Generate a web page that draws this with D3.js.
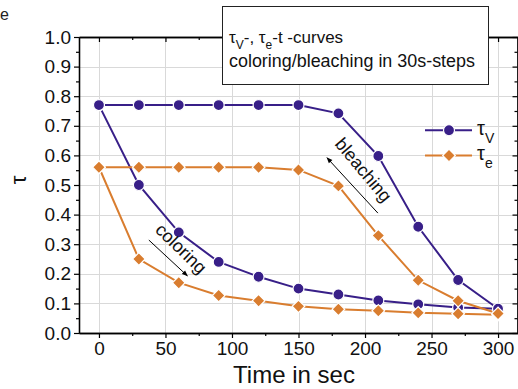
<!DOCTYPE html>
<html>
<head>
<meta charset="utf-8">
<script src="https://cdn.jsdelivr.net/npm/d3@7/dist/d3.min.js"></script>
<style>
  html, body { margin: 0; padding: 0; background: #fff; }
  svg { display: block; font-family: Arial, "Liberation Sans", sans-serif; }
</style>
</head>
<body>
<svg id="chart" width="518" height="389"></svg>
<script>
// Time steps (s) and the two measurement runs for each quantity
const times = [0, 30, 60, 90, 120, 150, 180, 210, 240, 270, 300];
const tauVColoring  = [0.77, 0.50, 0.34, 0.24, 0.19, 0.15, 0.13, 0.11, 0.097, 0.086, 0.082];
const tauVBleaching = [0.77, 0.77, 0.77, 0.77, 0.77, 0.77, 0.742, 0.598, 0.359, 0.179, 0.082];
const tauEColoring  = [0.56, 0.25, 0.17, 0.127, 0.109, 0.09, 0.08, 0.075, 0.068, 0.065, 0.062];
const tauEBleaching = [0.56, 0.56, 0.56, 0.56, 0.56, 0.551, 0.497, 0.329, 0.178, 0.109, 0.066];
const xTicks = [0, 50, 100, 150, 200, 250, 300];
const yTicks = [0.0, 0.1, 0.2, 0.3, 0.4, 0.5, 0.6, 0.7, 0.8, 0.9, 1.0];

const blue = "#381f88";
const orange = "#d97d2f";

const svg = d3.select("#chart");
const plotL = 79, plotR = 518, plotT = 37, plotB = 333;

const x = d3.scaleLinear().domain([-15, 315]).range([plotL, plotR]);
const y = d3.scaleLinear().domain([0, 1]).range([plotB, plotT]);

// stray glyph at the top-left corner
svg.append("text").attr("x", 0).attr("y", 20).attr("font-size", 16).attr("fill", "#222").text("e");

// grid
const grid = svg.append("g").attr("stroke", "#d9d9d9").attr("stroke-width", 1);
grid.selectAll(".gx").data(xTicks).join("line")
  .attr("x1", d => Math.round(x(d)) + 0.5).attr("x2", d => Math.round(x(d)) + 0.5)
  .attr("y1", plotT).attr("y2", plotB);
grid.selectAll(".gy").data(yTicks.slice(1)).join("line")
  .attr("y1", d => Math.round(y(d)) + 0.5).attr("y2", d => Math.round(y(d)) + 0.5)
  .attr("x1", plotL).attr("x2", plotR);

// axes
const minorY = d3.range(0.05, 1.0, 0.1);
const minorX = d3.range(0, 325, 25).filter(v => v % 50 !== 0);

const axL = svg.append("g").attr("transform", `translate(${plotL},0)`)
  .call(d3.axisLeft(y).tickValues(yTicks).tickFormat(d3.format(".1f")).tickSize(5).tickSizeOuter(0).tickPadding(3));
svg.append("g").attr("transform", `translate(${plotL},0)`)
  .call(d3.axisLeft(y).tickValues(minorY).tickFormat("").tickSize(3).tickSizeOuter(0));
const axB = svg.append("g").attr("transform", `translate(0,${plotB})`)
  .call(d3.axisBottom(x).tickValues(xTicks).tickFormat(d3.format("d")).tickSize(5).tickSizeOuter(0).tickPadding(4));
svg.append("g").attr("transform", `translate(0,${plotB})`)
  .call(d3.axisBottom(x).tickValues(minorX).tickFormat("").tickSize(3).tickSizeOuter(0));
svg.append("g").attr("transform", `translate(0,${plotT})`)
  .call(d3.axisBottom(x).tickValues(xTicks).tickFormat("").tickSize(5).tickSizeOuter(0));
svg.append("g").attr("transform", `translate(0,${plotT})`)
  .call(d3.axisBottom(x).tickValues(minorX).tickFormat("").tickSize(3).tickSizeOuter(0));
svg.append("g").attr("transform", `translate(${plotR - 0.5},0)`)
  .call(d3.axisLeft(y).tickValues(yTicks).tickFormat("").tickSize(5).tickSizeOuter(0));
svg.append("g").attr("transform", `translate(${plotR - 0.5},0)`)
  .call(d3.axisLeft(y).tickValues(minorY).tickFormat("").tickSize(3).tickSizeOuter(0));
svg.selectAll(".domain").attr("stroke", "#000").attr("stroke-width", 1.3);
svg.selectAll(".tick line").attr("stroke", "#000").attr("stroke-width", 1.2);
axL.selectAll("text").attr("font-size", 19).attr("fill", "#111").attr("font-family", "Arial, 'Liberation Sans', sans-serif");
axB.selectAll("text").attr("font-size", 19).attr("fill", "#111").attr("font-family", "Arial, 'Liberation Sans', sans-serif");

// axis titles
svg.append("text").attr("transform", "translate(26,180) rotate(-90)")
  .attr("text-anchor", "middle").attr("font-size", 22).attr("fill", "#111").text("τ");
svg.append("text").attr("x", 294).attr("y", 383).attr("text-anchor", "middle")
  .attr("font-size", 24).attr("fill", "#111").text("Time in sec");

// series
const line = d3.line().x(d => x(d[0])).y(d => y(d[1]));
const series = [
  { vals: tauVColoring, color: blue, shape: "circle" },
  { vals: tauVBleaching, color: blue, shape: "circle" },
  { vals: tauEColoring, color: orange, shape: "diamond" },
  { vals: tauEBleaching, color: orange, shape: "diamond" }
];
const circleSym = d3.symbol().type(d3.symbolCircle).size(95);
const diamondSym = d3.symbol().type(d3.symbolSquare).size(80);

function marker(g, shape, color, cx, cy) {
  const p = g.append("path")
    .attr("d", shape === "circle" ? circleSym() : diamondSym())
    .attr("fill", color).attr("stroke", "#fff").attr("stroke-width", 1.2);
  if (shape === "circle") p.attr("transform", `translate(${cx},${cy})`);
  else p.attr("transform", `translate(${cx},${cy}) rotate(45)`);
}

series.forEach(s => {
  const pts = times.map((t, i) => [t, s.vals[i]]);
  svg.append("path").attr("d", line(pts)).attr("fill", "none")
    .attr("stroke", s.color).attr("stroke-width", 2);
});
series.forEach(s => {
  const g = svg.append("g");
  times.forEach((t, i) => marker(g, s.shape, s.color, x(t), y(s.vals[i])));
});

// annotations with arrows
const defs = svg.append("defs");
defs.append("marker").attr("id", "ah").attr("viewBox", "0 0 10 10")
  .attr("refX", 9).attr("refY", 5).attr("markerWidth", 7).attr("markerHeight", 6)
  .attr("orient", "auto").attr("markerUnits", "userSpaceOnUse")
  .append("path").attr("d", "M0,1 L10,5 L0,9 Z").attr("fill", "#000");

const annotations = [
  { text: "coloring", tx: 61, ty: 0.282, angle: 44, from: [37.5, 0.314], to: [66.5, 0.193] },
  { text: "bleaching", tx: 198, ty: 0.548, angle: 50, from: [209.7, 0.405], to: [171.4, 0.592] }
];
annotations.forEach(a => {
  svg.append("text")
    .attr("transform", `translate(${x(a.tx)},${y(a.ty)}) rotate(${a.angle})`)
    .attr("text-anchor", "middle").attr("dominant-baseline", "middle")
    .attr("font-size", 18).attr("fill", "#111").text(a.text);
  svg.append("line")
    .attr("x1", x(a.from[0])).attr("y1", y(a.from[1]))
    .attr("x2", x(a.to[0])).attr("y2", y(a.to[1]))
    .attr("stroke", "#000").attr("stroke-width", 1).attr("marker-end", "url(#ah)");
});

// legend
const legend = [
  { sym: "circle", color: blue, sub: "V", v: 0.685 },
  { sym: "diamond", color: orange, sub: "e", v: 0.6 }
];
legend.forEach(l => {
  const ly = y(l.v);
  svg.append("line").attr("x1", 425).attr("x2", 472).attr("y1", ly).attr("y2", ly)
    .attr("stroke", l.color).attr("stroke-width", 2);
  marker(svg, l.sym, l.color, 449, ly);
  const t = svg.append("text").attr("x", 477).attr("y", ly + 5).attr("font-size", 20).attr("fill", "#111");
  t.append("tspan").text("τ");
  t.append("tspan").attr("dy", 8).attr("font-size", 14).text(l.sub);
});

// title box
svg.append("rect").attr("x", 222.5).attr("y", 6.5).attr("width", 266).attr("height", 78)
  .attr("fill", "#fff").attr("stroke", "#222").attr("stroke-width", 1);
const t1 = svg.append("text").attr("x", 229).attr("y", 43).attr("font-size", 17).attr("fill", "#111");
t1.append("tspan").text("τ");
t1.append("tspan").attr("dy", 6).attr("font-size", 12).text("V");
t1.append("tspan").attr("dy", -6).text("-, τ");
t1.append("tspan").attr("dy", 6).attr("font-size", 12).text("e");
t1.append("tspan").attr("dy", -6).text("-t -curves");
svg.append("text").attr("x", 229).attr("y", 67).attr("font-size", 17.5).attr("fill", "#111")
  .attr("textLength", 246).attr("lengthAdjust", "spacingAndGlyphs")
  .text("coloring/bleaching in 30s-steps");
</script>
</body>
</html>
